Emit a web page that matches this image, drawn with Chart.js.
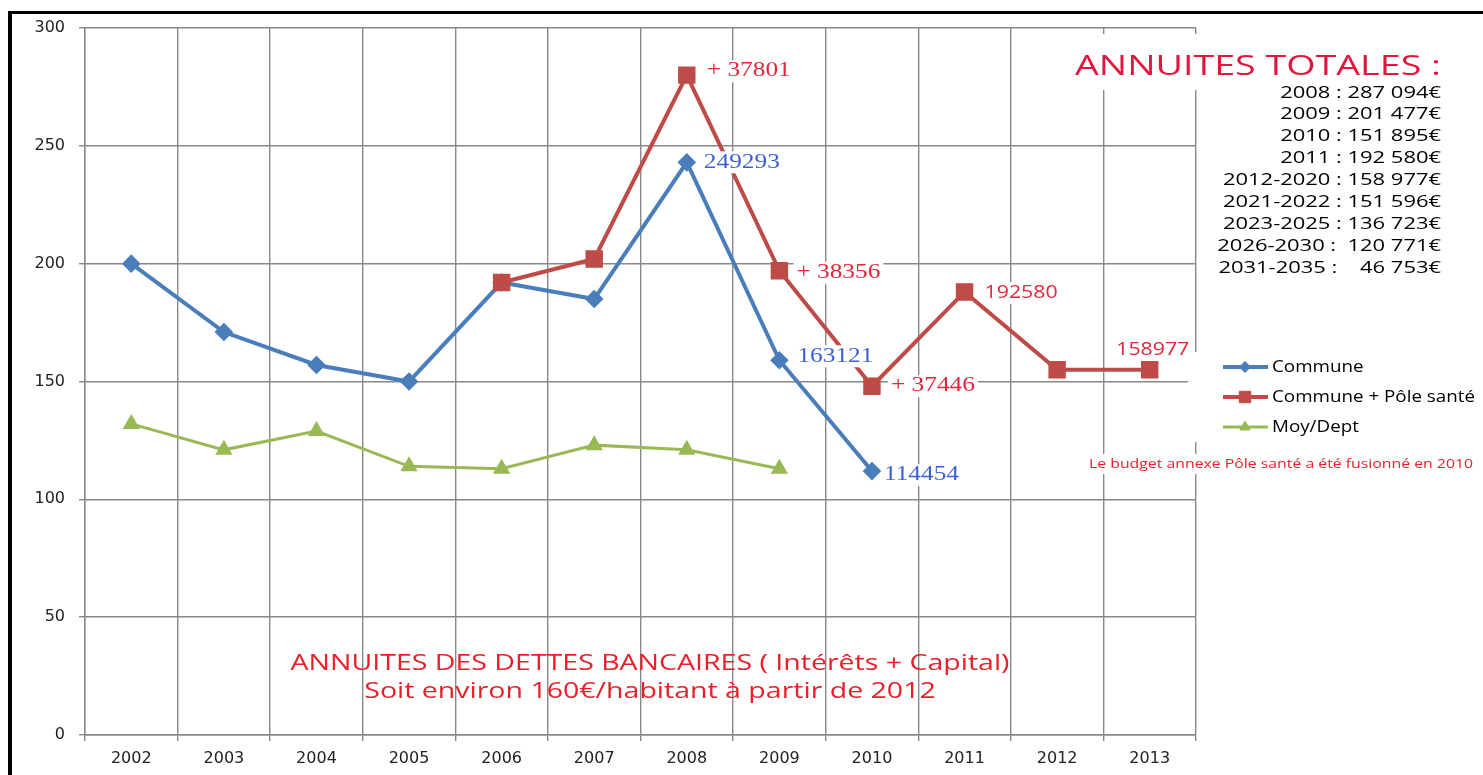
<!DOCTYPE html>
<html>
<head>
<meta charset="utf-8">
<script src="https://cdn.jsdelivr.net/npm/chart.js@4.4.0/dist/chart.umd.min.js"></script>
<style>
    html, body { margin: 0; padding: 0; background: #fff; overflow: hidden; }
    #contenedor { position: relative; width: 1483px; height: 775px; }
</style>
</head>
<body>
<div id="contenedor"><canvas id="grafico"></canvas></div>
<script>
// Données
const annees = ['2002', '2003', '2004', '2005', '2006', '2007', '2008', '2009', '2010', '2011', '2012', '2013'];
const commune = [200, 171, 157, 150, 192, 185, 243, 159, 112, null, null, null];
const communePole = [null, null, null, null, 192, 202, 280, 197, 148, 188, 155, 155];
const moyDept = [132, 121, 129, 114, 113, 123, 121, 113, null, null, null, null];
const ticksY = [0, 50, 100, 150, 200, 250, 300];

// Étiquettes posées à côté des points
const etiquettesCommune = [null, null, null, null, null, null, '249293', '163121', '114454', null, null, null];
const etiquettesPole = [null, null, null, null, null, null, '+ 37801', '+ 38356', '+ 37446', '192580', null, '158977'];

const annuitesTotales = [
    '2008 : 287 094€',
    '2009 : 201 477€',
    '2010 : 151 895€',
    '2011 : 192 580€',
    '2012-2020 : 158 977€',
    '2021-2022 : 151 596€',
    '2023-2025 : 136 723€',
    '2026-2030 :  120 771€',
    '2031-2035 :    46 753€'
];

const bleu = '#4A7EBB';
const rouge = '#BE4B48';
const vert = '#98B954';
const rougeTexte = '#E3263A';
const bleuTexte = '#3D5FD6';

// dibuja un texto estirado horizontalmente (el original está deformado)
function texteEtire(ctx, txt, x, y, font, color, sx, align) {
    ctx.save();
    ctx.font = font;
    const w = ctx.measureText(txt).width * sx;
    let x0 = x;
    if (align === 'right') x0 = x - w;
    if (align === 'center') x0 = x - w / 2;
    ctx.translate(x0, y);
    ctx.scale(sx, 1);
    ctx.fillStyle = color;
    ctx.textAlign = 'left';
    ctx.textBaseline = 'middle';
    ctx.fillText(txt, 0, 0);
    ctx.restore();
    return { x: x0, w: w };
}

function echelle(ctx, txt, font, largeur) {
    ctx.save();
    ctx.font = font;
    const m = ctx.measureText(txt).width;
    ctx.restore();
    return largeur / m;
}

function blanc(ctx, x, y, w, h) {
    ctx.save();
    ctx.fillStyle = '#fff';
    ctx.fillRect(x, y, w, h);
    ctx.restore();
}

const decor = {
    id: 'decor',
    afterDatasetsDraw(chart) {
        const ctx = chart.ctx;

        // étiquettes des points
        const fSerif = '20px "Liberation Serif"';
        const fSans = '18px "Open Sans"';
        const sxSerif = echelle(ctx, '249293', fSerif, 76);
        const sxSans = echelle(ctx, '192580', fSans, 73);
        const poser = (dsIndex, textes, couleur) => {
            const meta = chart.getDatasetMeta(dsIndex);
            textes.forEach((t, i) => {
                if (!t) return;
                const p = meta.data[i];
                let font = fSerif, sx = sxSerif, dx = 17, dy = 0, align = 'left';
                if (t === '192580') { font = fSans; sx = sxSans; dx = 20; dy = 1; }
                if (t === '158977') { font = fSans; sx = sxSans; dx = 3; dy = -20; align = 'center'; }
                if (t === '+ 37801') { dx = 20; dy = -4; }
                if (t === '163121') { dx = 18; dy = -4; }
                if (t === '114454') { dx = 12; dy = 4; }
                if (t === '+ 38356') { dy = 2; }
                if (t === '+ 37446') { dx = 19; }
                ctx.save();
                ctx.font = font;
                const w = ctx.measureText(t).width * sx;
                ctx.restore();
                const x0 = align === 'center' ? p.x + dx - w / 2 : p.x + dx;
                blanc(ctx, x0 - 3, p.y + dy - 11, w + 6, 22);
                texteEtire(ctx, t, x0, p.y + dy, font, couleur, sx, 'left');
            });
        };
        poser(0, etiquettesCommune, bleuTexte);
        poser(1, etiquettesPole, rougeTexte);

        // titre et liste des annuités
        blanc(ctx, 1066, 34, 140, 56);
        const fTitre = '27px "Open Sans"';
        const titre = 'ANNUITES TOTALES :';
        texteEtire(ctx, titre, 1075, 67, fTitre, '#E3173E', echelle(ctx, titre, fTitre, 366), 'left');
        const fListe = '16px "Open Sans"';
        const sxListe = echelle(ctx, annuitesTotales[4], fListe, 218);
        annuitesTotales.forEach((t, i) => {
            texteEtire(ctx, t, 1441, 93 + i * 21.9, fListe, '#000', sxListe, 'right');
        });

        // légende
        blanc(ctx, 1188, 352, 292, 90);
        const fLeg = '17px "Open Sans"';
        const sxLeg = echelle(ctx, 'Commune + Pôle santé', fLeg, 203);
        chart.data.datasets.forEach((ds, i) => {
            const y = 367 + i * 30;
            ctx.save();
            ctx.strokeStyle = ds.borderColor;
            ctx.lineWidth = ds.borderWidth;
            ctx.beginPath();
            ctx.moveTo(1223, y);
            ctx.lineTo(1268, y);
            ctx.stroke();
            ctx.fillStyle = ds.pointBackgroundColor;
            ctx.strokeStyle = ds.pointBorderColor;
            ctx.lineWidth = 1;
            Chart.helpers.drawPoint(ctx, { pointStyle: ds.pointStyle, radius: ds.pointRadius * 0.85, rotation: 0, borderWidth: 1 }, 1245, y);
            ctx.restore();
            texteEtire(ctx, ds.label, 1272, y, fLeg, '#000', sxLeg, 'left');
        });

        // note
        const note = 'Le budget annexe Pôle santé a été fusionné en 2010';
        const fNote = '13px "Open Sans"';
        blanc(ctx, 1085, 454, 394, 20);
        texteEtire(ctx, note, 1089, 464, fNote, '#E8202A', echelle(ctx, note, fNote, 384), 'left');

        // texte du bas
        const l1 = 'ANNUITES DES DETTES BANCAIRES ( Intérêts + Capital)';
        const l2 = 'Soit environ 160€/habitant à partir de 2012';
        const fBas = '21px "Open Sans"';
        const sxBas = echelle(ctx, l1, fBas, 719);
        texteEtire(ctx, l1, 650, 664, fBas, '#E8202A', sxBas, 'center');
        texteEtire(ctx, l2, 650, 692, fBas, '#E8202A', sxBas, 'center');

        // cadre noir
        ctx.save();
        ctx.fillStyle = '#000';
        ctx.fillRect(8, 11, 4, 775);
        ctx.fillRect(8, 11, 1483, 3);
        ctx.restore();
    }
};

new Chart(document.getElementById('grafico'), {
    type: 'line',
    data: {
        labels: annees,
        datasets: [{
            label: 'Commune',
            data: commune,
            borderColor: bleu,
            backgroundColor: bleu,
            pointBackgroundColor: bleu,
            pointBorderColor: bleu,
            borderWidth: 4,
            pointStyle: 'rectRot',
            pointRadius: 6.5,
            tension: 0,
            order: 1
        }, {
            label: 'Commune + Pôle santé',
            data: communePole,
            borderColor: rouge,
            backgroundColor: rouge,
            pointBackgroundColor: rouge,
            pointBorderColor: rouge,
            borderWidth: 4,
            pointStyle: 'rect',
            pointRadius: 9.5,
            tension: 0,
            order: 0
        }, {
            label: 'Moy/Dept',
            data: moyDept,
            borderColor: vert,
            backgroundColor: vert,
            pointBackgroundColor: vert,
            pointBorderColor: vert,
            borderWidth: 3,
            pointStyle: 'triangle',
            pointRadius: 7,
            tension: 0,
            order: 2
        }]
    },
    options: {
        responsive: true,
        maintainAspectRatio: false,
        animation: false,
        layout: { padding: { left: 0, top: 28, right: 287, bottom: 0 } },
        plugins: {
            legend: { display: false },
            tooltip: { enabled: false }
        },
        scales: {
            x: {
                offset: true,
                grid: { offset: true, color: '#888', lineWidth: 1.4, tickLength: 6 },
                border: { color: '#888', width: 1.4 },
                ticks: { color: '#222', font: { family: 'DejaVu Sans', size: 16 }, padding: 8, maxRotation: 0 },
                afterFit(scale) { scale.height = 40; }
            },
            y: {
                min: 0,
                max: 300,
                afterBuildTicks(scale) { scale.ticks = ticksY.map(v => ({ value: v })); },
                grid: { color: '#888', lineWidth: 1.4, tickLength: 6 },
                border: { color: '#888', width: 1.4 },
                ticks: { color: '#222', font: { family: 'DejaVu Sans', size: 16 }, padding: 14 },
                afterFit(scale) { scale.width = 85; }
            }
        }
    },
    plugins: [decor]
});
</script>
</body>
</html>
